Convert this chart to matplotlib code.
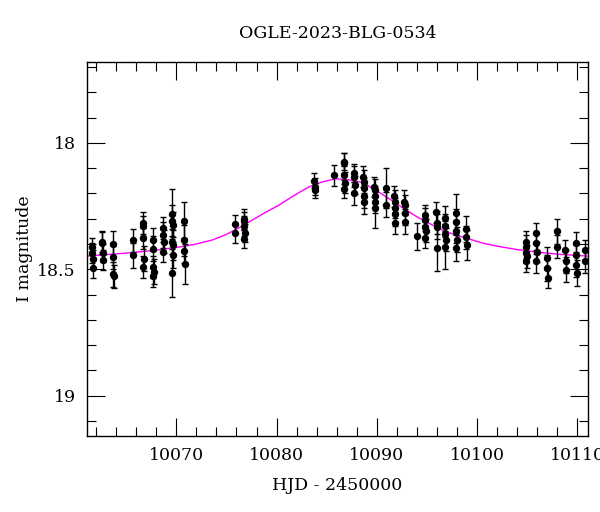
import matplotlib
matplotlib.use('Agg')
import matplotlib.pyplot as plt
from matplotlib.ticker import MultipleLocator, FuncFormatter

plt.rcParams['font.family'] = ['DejaVu Serif']

# photometry (HJD - 2450000, I mag, error)
hjd = [10061.55, 10061.6, 10061.65, 10061.7,
       10062.55, 10062.6, 10062.65, 10062.7,
       10063.65, 10063.7, 10063.7, 10063.75,
       10065.65, 10065.7,
       10066.65, 10066.7, 10066.7, 10066.75, 10066.7,
       10067.65, 10067.7, 10067.7, 10067.75, 10067.7,
       10068.65, 10068.7, 10068.75, 10068.7,
       10069.55, 10069.6, 10069.65, 10069.6, 10069.65, 10069.7, 10069.6,
       10070.75, 10070.8, 10070.8, 10070.85,
       10075.9, 10075.9,
       10076.75, 10076.8, 10076.8, 10076.85, 10076.8,
       10083.75, 10083.8, 10083.85,
       10085.75,
       10086.7, 10086.75, 10086.75, 10086.8, 10086.75,
       10087.7, 10087.75, 10087.8, 10087.75,
       10088.65, 10088.7, 10088.75, 10088.7, 10088.75,
       10089.75, 10089.8, 10089.8, 10089.85, 10089.8,
       10090.9, 10090.9,
       10091.75, 10091.8, 10091.8, 10091.85, 10091.8,
       10092.75, 10092.8, 10092.85, 10092.8,
       10094.0,
       10094.75, 10094.8, 10094.8, 10094.85, 10094.8,
       10095.9, 10095.95, 10096.0, 10095.95,
       10096.75, 10096.8, 10096.8, 10096.85, 10096.8,
       10097.85, 10097.9, 10097.9, 10097.95, 10097.9,
       10098.85, 10098.9, 10098.95,
       10104.85, 10104.9, 10104.9, 10104.95, 10104.9,
       10105.85, 10105.9, 10105.95, 10105.9,
       10106.95, 10107.0, 10107.05,
       10108.0, 10108.0,
       10108.8, 10108.85, 10108.9,
       10109.85, 10109.9, 10109.9, 10109.95,
       10110.8, 10110.8]
mag = [18.41, 18.436, 18.458, 18.495,
       18.39, 18.396, 18.436, 18.462,
       18.40, 18.452, 18.52, 18.528,
       18.386, 18.444,
       18.317, 18.328, 18.378, 18.458, 18.491,
       18.383, 18.419, 18.491, 18.509, 18.528,
       18.337, 18.364, 18.39, 18.43,
       18.282, 18.307, 18.324, 18.39, 18.403, 18.443, 18.513,
       18.307, 18.386, 18.426, 18.478,
       18.32, 18.357,
       18.30, 18.31, 18.328, 18.357, 18.38,
       18.150, 18.173, 18.188,
       18.129,
       18.074, 18.08, 18.126, 18.157, 18.183,
       18.12, 18.133, 18.166, 18.199,
       18.133, 18.153, 18.179, 18.212, 18.232,
       18.173, 18.186, 18.212, 18.232, 18.258,
       18.179, 18.245,
       18.212, 18.232, 18.258, 18.28, 18.317,
       18.232, 18.245, 18.278, 18.311,
       18.37,
       18.285, 18.304, 18.333, 18.347, 18.377,
       18.275, 18.315, 18.331, 18.416,
       18.298, 18.328, 18.36, 18.383, 18.41,
       18.278, 18.311, 18.35, 18.383, 18.416,
       18.341, 18.373, 18.403,
       18.39, 18.41, 18.436, 18.449, 18.469,
       18.357, 18.396, 18.43, 18.469,
       18.456, 18.495, 18.535,
       18.35, 18.41,
       18.423, 18.469, 18.502,
       18.396, 18.443, 18.482, 18.515,
       18.423, 18.469]
err = [0.035, 0.04, 0.035, 0.04,
       0.04, 0.045, 0.035, 0.04,
       0.05, 0.045, 0.05, 0.045,
       0.045, 0.05,
       0.045, 0.04, 0.04, 0.05, 0.045,
       0.045, 0.05, 0.045, 0.05, 0.04,
       0.045, 0.05, 0.045, 0.04,
       0.1, 0.06, 0.05, 0.05, 0.06, 0.05, 0.095,
       0.075, 0.06, 0.05, 0.08,
       0.035, 0.04,
       0.04, 0.035, 0.04, 0.035, 0.035,
       0.03, 0.035, 0.03,
       0.04,
       0.035, 0.04, 0.035, 0.04, 0.035,
       0.035, 0.04, 0.035, 0.045,
       0.04, 0.045, 0.04, 0.045, 0.05,
       0.04, 0.045, 0.04, 0.045, 0.08,
       0.08, 0.05,
       0.04, 0.045, 0.04, 0.05, 0.045,
       0.045, 0.04, 0.045, 0.05,
       0.055,
       0.04, 0.045, 0.04, 0.045, 0.04,
       0.04, 0.045, 0.05, 0.09,
       0.05, 0.045, 0.05, 0.045, 0.09,
       0.075, 0.05, 0.045, 0.05, 0.05,
       0.05, 0.045, 0.06,
       0.04, 0.045, 0.04, 0.045, 0.04,
       0.04, 0.045, 0.04, 0.045,
       0.045, 0.05, 0.04,
       0.05, 0.045,
       0.04, 0.045, 0.05,
       0.045, 0.04, 0.05, 0.05,
       0.04, 0.045]

# model curve
model_t = [10061.0, 10063.0, 10065.6, 10068.0, 10070.6, 10072.0, 10073.6, 10075.0,
           10076.3, 10077.5, 10078.8, 10080.3, 10081.3, 10082.3, 10083.3, 10084.5,
           10085.9, 10087.2, 10088.6, 10090.0, 10091.2, 10092.5, 10093.9, 10095.2,
           10096.5, 10097.8, 10099.2, 10100.7, 10102.2, 10104.0, 10106.0, 10108.0,
           10111.1]
model_mag = [18.448, 18.442, 18.434, 18.424, 18.41, 18.4, 18.384, 18.362,
             18.335, 18.307, 18.277, 18.245, 18.219, 18.195, 18.173, 18.155,
             18.142, 18.146, 18.157, 18.19, 18.22, 18.255, 18.29, 18.318,
             18.344, 18.364, 18.38, 18.398, 18.41, 18.422, 18.432, 18.44,
             18.448]

fig = plt.figure(figsize=(6, 5.12), dpi=100)
ax = fig.add_axes([0.145, 0.148, 0.835, 0.731])

ax.plot(model_t, model_mag, color='#ff00ff', linewidth=1, zorder=2)
ax.errorbar(hjd, mag, yerr=err, fmt='o', color='black', markersize=4.3,
            elinewidth=1, capsize=2.5, capthick=1, zorder=3)

ax.set_xlim(10061.1, 10111.05)
ax.set_ylim(19.16, 17.68)
ax.xaxis.set_major_locator(MultipleLocator(10))
ax.xaxis.set_minor_locator(MultipleLocator(2))
ax.yaxis.set_major_locator(MultipleLocator(0.5))
ax.yaxis.set_minor_locator(MultipleLocator(0.1))
ax.yaxis.set_major_formatter(FuncFormatter(lambda v, p: '%g' % v))
ax.tick_params(which='both', direction='in', top=True, right=True, labelsize=12.5, width=0.8)
ax.tick_params(which='major', length=13, pad=8)
ax.tick_params(which='minor', length=6.5)
for s in ax.spines.values():
    s.set_linewidth(1.0)

ax.set_xlabel('HJD - 2450000', fontsize=12.5, labelpad=9)
ax.set_ylabel('I magnitude', fontsize=12.5, labelpad=3)
ax.set_title('OGLE-2023-BLG-0534', fontsize=12.5, pad=17)

fig.savefig('out.png', dpi=100)
